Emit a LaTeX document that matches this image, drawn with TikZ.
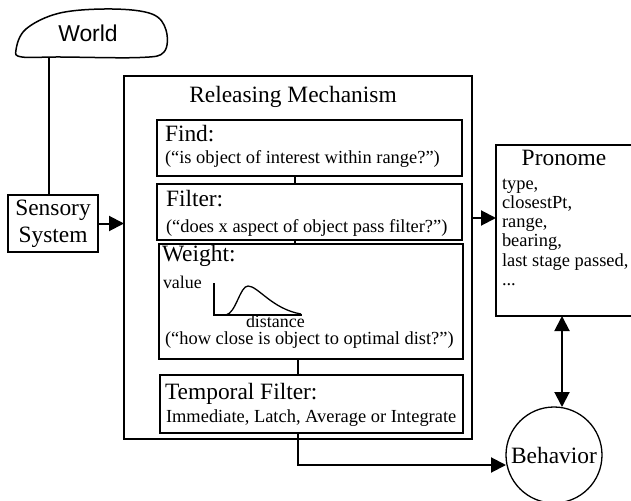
\documentclass[tikz,border=0pt]{standalone}
\usepackage{fontspec}
\setmainfont{Liberation Serif}
\newfontfamily\worldfont{Liberation Sans}
\usetikzlibrary{arrows.meta}
\newcommand\hdfont{\fontsize{23.5}{27}\selectfont}
\newcommand\smfont{\fontsize{18.5}{18}\selectfont}
\tikzset{
  box/.style={draw, line width=2bp, anchor=north west, inner sep=0pt, outer sep=0pt},
  lbl/.style={anchor=base west, inner sep=0pt, outer sep=0pt, font=\smfont},
  hd/.style={anchor=base west, inner sep=0pt, outer sep=0pt, font=\hdfont},
  link/.style={line width=2bp},
  flow/.style={line width=2bp, -{Triangle[length=15bp, width=15bp]}},
  twoway/.style={line width=2bp, {Triangle[length=15bp, width=15bp]}-{Triangle[length=15bp, width=15bp]}},
  thin/.style={line width=1.3bp}
}
\begin{document}
\begin{tikzpicture}[x=1bp, y=-1bp]
\useasboundingbox (0,0) rectangle (631,501);

% the world, drawn as a pebble-like outline
\draw[line width=1.5bp] plot[smooth cycle, tension=0.6] coordinates
  {(16,50) (26,29) (60,13) (112,9) (152,14) (166,30) (164,52) (140,57.5) (60,57) (22,57)};
\node[font=\worldfont\fontsize{23}{27}\selectfont, inner sep=0pt] (world) at (88,33) {World};
\coordinate (wb) at (49,57.5);

% sensory system
\node[box, minimum width=90bp, minimum height=57bp] (sensory) at (8,195) {};
\node[font=\hdfont, align=center, inner sep=0pt] (sensorytxt) at (sensory.center)
  {\fontsize{23.5}{25}\selectfont Sensory\\System};

% releasing mechanism and its stages
\node[box, minimum width=348bp, minimum height=363bp] (rm) at (124,76) {};
\node[font=\hdfont, anchor=base, inner sep=0pt] (rmtitle) at (293,103) {Releasing Mechanism};

\node[box, minimum width=305bp, minimum height=56bp] (find) at (157,120) {};
\node[hd] (findhd) at (165,142) {Find:};
\node[lbl] (findq) at (165,164) {(“is object of interest within range?”)};

\node[box, minimum width=305bp, minimum height=56bp] (filter) at (157,184) {};
\node[hd] (filterhd) at (166,207) {Filter:};
\node[lbl] (filterq) at (166,233) {(“does x aspect of object pass filter?”)};

\node[box, minimum width=304bp, minimum height=115bp] (weight) at (159,244) {};
\node[hd] (weighthd) at (162,261) {Weight:};
\node[lbl, font=\fontsize{18}{18}\selectfont] (value) at (163,288) {value};
\node[lbl, font=\fontsize{18}{18}\selectfont] (distance) at (246,327) {distance};
\node[lbl] (weightq) at (165,344) {(“how close is object to optimal dist?”)};
% value-versus-distance sketch
\draw[thin] (214,283) -- (214,315) -- (302,315);
\draw[thin] (214,315) -- (226,315) .. controls (236,313) and (240,286) .. (248,286)
  .. controls (258,286) and (272,309) .. (301,314);

\node[box, minimum width=303bp, minimum height=58bp] (temporal) at (160,375) {};
\node[hd] (temporalhd) at (165,399) {Temporal Filter:};
\node[lbl] (temporalq) at (166,422) {Immediate, Latch, Average or Integrate};

% pronome and its fields
\node[box, minimum width=160bp, minimum height=171bp] (pronome) at (496,145) {};
\node[font=\hdfont, anchor=base, inner sep=0pt] (pronometitle) at (564,166) {Pronome};
\node[lbl] (f1) at (502,190) {type,};
\node[lbl] (f2) at (502,209) {closestPt,};
\node[lbl] (f3) at (502,228) {range,};
\node[lbl] (f4) at (502,247) {bearing,};
\node[lbl] (f5) at (502,266) {last stage passed,};
\node[lbl] (f6) at (502,285) {...};

% behavior
\node[draw, circle, line width=1.3bp, minimum size=96bp, inner sep=0pt, outer sep=0pt,
  font=\hdfont] (behavior) at (554,455) {Behavior};

% connectors
\coordinate (c1) at (295,0);
\coordinate (c2) at (298,0);
\coordinate (c3) at (562,0);
\coordinate (pin) at (472,218);
\coordinate (bend) at (298,465);
\draw[link] (wb) -- (sensory.north -| wb);
\draw[flow] (sensory.east) -- (sensory.east -| rm.west);
\draw[link] (find.south -| c1) -- (filter.north -| c1);
\draw[link] (filter.south -| c1) -- (weight.north -| c1);
\draw[link] (weight.south -| c2) -- (temporal.north -| c2);
\draw[flow] (pin) -- (pin -| pronome.west);
\draw[flow] (temporal.south -| c2) -- (bend) -- (bend -| behavior.west);
\draw[twoway] (pronome.south -| c3) -- (behavior.north -| c3);
\end{tikzpicture}
\end{document}
